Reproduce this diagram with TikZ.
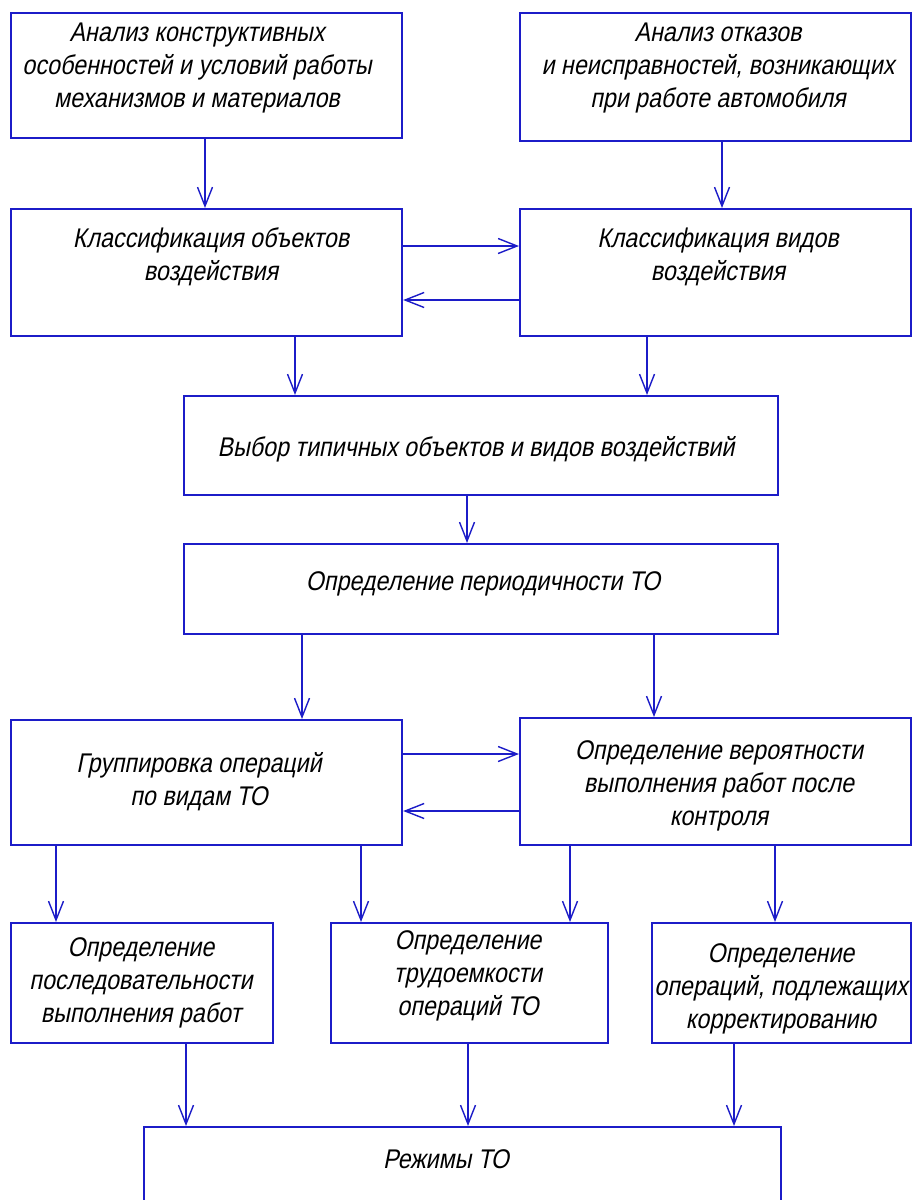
\documentclass[tikz,border=0pt]{standalone}
\usepackage{fontspec}
\setmainfont{Liberation Sans}[FakeSlant=0.2,FakeStretch=0.86]
\usetikzlibrary{arrows.meta}
\definecolor{lineblue}{RGB}{28,28,200}
\tikzset{
  box/.style={draw=lineblue,line width=2.2pt,rectangle,inner sep=0pt,anchor=north west},
  txt/.style={align=center,text=black,font=\fontsize{27}{33}\selectfont,inner sep=0pt},
  arr/.style={draw=lineblue,line width=1.4pt,-{Straight Barb[length=19pt,width=15pt,line width=1.4pt]}}
}
\begin{document}
\begin{tikzpicture}[x=1pt,y=-1pt]
\clip (0,0) rectangle (912,1200);
\fill[white] (0,0) rectangle (912,1200);
% boxes
\node[box,minimum width=391pt,minimum height=125pt] (b1) at (10,12) {};
\node[box,minimum width=391pt,minimum height=128pt] (b2) at (519,12) {};
\node[box,minimum width=391pt,minimum height=127pt] (b3) at (10,208) {};
\node[box,minimum width=391pt,minimum height=127pt] (b4) at (519,208) {};
\node[box,minimum width=594pt,minimum height=99pt] (b5) at (183,395) {};
\node[box,minimum width=594pt,minimum height=90pt] (b6) at (183,543) {};
\node[box,minimum width=391pt,minimum height=125pt] (b7) at (10,719) {};
\node[box,minimum width=391pt,minimum height=127pt] (b8) at (519,717) {};
\node[box,minimum width=262pt,minimum height=120pt] (b9) at (10,922) {};
\node[box,minimum width=277pt,minimum height=120pt] (b10) at (330,922) {};
\node[box,minimum width=259pt,minimum height=120pt] (b11) at (651,922) {};
\node[box,minimum width=637pt,minimum height=150pt] (b12) at (143,1126) {};
% texts
\node[txt] (t1) at (197,68) {Анализ конструктивных\\особенностей и условий работы\\механизмов и материалов};
\node[txt] (t2) at (718,68) {Анализ отказов\\и неисправностей, возникающих\\при работе автомобиля};
\node[txt] (t3) at (211,257) {Классификация объектов\\воздействия};
\node[txt] (t4) at (718,257) {Классификация видов\\воздействия};
\node[txt] (t5) at (476,449) {Выбор типичных объектов и видов воздействий};
\node[txt] (t6) at (483,584) {Определение периодичности ТО};
\node[txt] (t7) at (199,782) {Группировка операций\\по видам ТО};
\node[txt] (t8) at (719,786) {Определение вероятности\\выполнения работ после\\контроля};
\node[txt] (t9) at (141,983) {Определение\\последовательности\\выполнения работ};
\node[txt] (t10) at (468,976) {Определение\\трудоемкости\\операций ТО};
\node[txt] (t11) at (781,989) {Определение\\операций, подлежащих\\корректированию};
\node[txt] (t12) at (446,1159) {Режимы ТО};
% connector x / y positions
\coordinate (x1) at (205,0);
\coordinate (x2) at (722,0);
\coordinate (y1) at (0,246);
\coordinate (y2) at (0,300);
\coordinate (x3) at (295,0);
\coordinate (x4) at (647,0);
\coordinate (x5) at (467,0);
\coordinate (x6) at (302,0);
\coordinate (x7) at (654,0);
\coordinate (y3) at (0,754);
\coordinate (y4) at (0,811);
\coordinate (x8) at (56,0);
\coordinate (x9) at (361,0);
\coordinate (x10) at (570,0);
\coordinate (x11) at (775,0);
\coordinate (x12) at (186,0);
\coordinate (x13) at (468,0);
\coordinate (x14) at (734,0);
% connectors
\draw[arr] (b1.south -| x1) -- (b3.north -| x1);
\draw[arr] (b2.south -| x2) -- (b4.north -| x2);
\draw[arr] (b3.east |- y1) -- (b4.west |- y1);
\draw[arr] (b4.west |- y2) -- (b3.east |- y2);
\draw[arr] (b3.south -| x3) -- (b5.north -| x3);
\draw[arr] (b4.south -| x4) -- (b5.north -| x4);
\draw[arr] (b5.south -| x5) -- (b6.north -| x5);
\draw[arr] (b6.south -| x6) -- (b7.north -| x6);
\draw[arr] (b6.south -| x7) -- (b8.north -| x7);
\draw[arr] (b7.east |- y3) -- (b8.west |- y3);
\draw[arr] (b8.west |- y4) -- (b7.east |- y4);
\draw[arr] (b7.south -| x8) -- (b9.north -| x8);
\draw[arr] (b7.south -| x9) -- (b10.north -| x9);
\draw[arr] (b8.south -| x10) -- (b10.north -| x10);
\draw[arr] (b8.south -| x11) -- (b11.north -| x11);
\draw[arr] (b9.south -| x12) -- (b12.north -| x12);
\draw[arr] (b10.south -| x13) -- (b12.north -| x13);
\draw[arr] (b11.south -| x14) -- (b12.north -| x14);
\end{tikzpicture}
\end{document}
